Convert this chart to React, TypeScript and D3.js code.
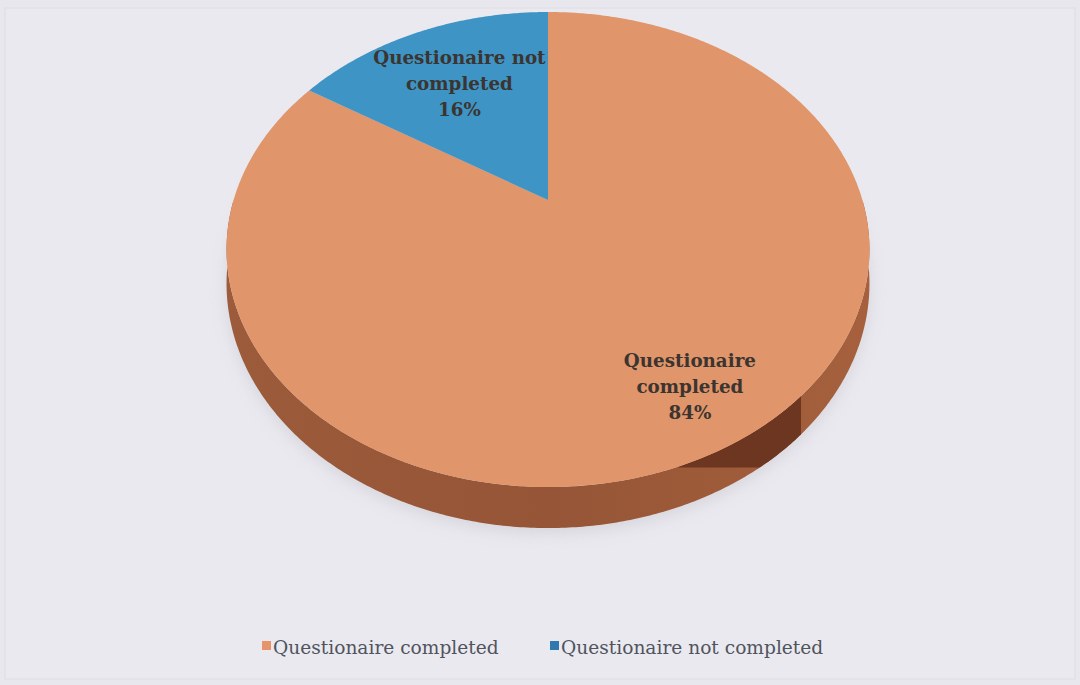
import React from "react";
import * as d3 from "d3";

const categories = ["Questionaire completed", "Questionaire not completed"];
const values = [84, 16];
const percentLabels = ["84%", "16%"];
const labelLines = [["Questionaire", "completed"], ["Questionaire not", "completed"]];

const topColors = ["#e0956a", "#3d94c5"];
const sideColors = ["#9a5939", "#2a6a90"];
const legendColors = ["#e8946a", "#2f79b0"];

const W = 1080;
const H = 685;
const CX = 548;
const CY = 200;
const A = 314.4;
const B = 227.2;
const K = 0.2084;
const DEPTH = 32.5;
const labelRadius = [0.8, 0.655];

function proj(t: number, r: number, dz = 0): [number, number] {
  const X = r * Math.sin(t);
  const Y = r * Math.cos(t);
  const s = 1 / (1 + K * Y);
  return [CX + A * X * s, CY - B * Y * s + dz * s];
}

function samples(a0: number, a1: number): number[] {
  const n = Math.max(2, Math.ceil(((a1 - a0) * 180) / Math.PI / 0.5));
  return d3.range(n + 1).map((i) => a0 + ((a1 - a0) * i) / n);
}

function poly(pts: [number, number][]): string {
  return "M" + pts.map((p) => p[0].toFixed(2) + "," + p[1].toFixed(2)).join("L") + "Z";
}

function sidePath(a0: number, a1: number): string {
  const ts = samples(a0, a1);
  const top = ts.map((t) => proj(t, 1, 0));
  const bot = ts.slice().reverse().map((t) => proj(t, 1, DEPTH));
  return poly([...top, ...bot]);
}

export default function App() {
  const pie = d3.pie<number>().sort(null).startAngle(0).endAngle(2 * Math.PI);
  const arcs = pie(values);

  const sides = arcs
    .map((d, i) => {
      const a0 = Math.max(d.startAngle, Math.PI / 2);
      const a1 = Math.min(d.endAngle, (3 * Math.PI) / 2);
      return a1 > a0 ? { i, path: sidePath(a0, a1) } : null;
    })
    .filter(Boolean) as { i: number; path: string }[];

  // darker shading facet on the front-right rim
  const shadeA0 = (137 * Math.PI) / 180;
  const shadeA1 = (160.5 * Math.PI) / 180;
  const shadePath = sidePath(shadeA0, shadeA1);
  const shadeClipY = proj(shadeA1, 1, 0)[1] + 1;

  const shadowPath = poly(samples(0, 2 * Math.PI).map((t) => proj(t, 1, DEPTH + 4)));

  const tops = arcs.map((d) => {
    const pts = samples(d.startAngle, d.endAngle).map((t) => proj(t, 1, 0));
    return poly([[CX, CY], ...pts]);
  });

  const labels = arcs.map((d, i) => {
    const mid = (d.startAngle + d.endAngle) / 2;
    const [x, y] = proj(mid, labelRadius[i], 0);
    return { x, y, lines: [...labelLines[i], percentLabels[i]] };
  });

  const legendX = [262, 550];
  const legendY = 647;

  return (
    <svg
      width={W}
      height={H}
      style={{ position: "absolute", left: 0, top: 0 }}
      xmlns="http://www.w3.org/2000/svg"
    >
      <defs>
        <filter id="blur" x="-20%" y="-20%" width="140%" height="140%">
          <feGaussianBlur stdDeviation="8" />
        </filter>
        <linearGradient id="sideGrad" x1="0" x2="1" y1="0" y2="0">
          <stop offset="0" stopColor="#9c5b3b" />
          <stop offset="0.5" stopColor="#955536" />
          <stop offset="1" stopColor="#a6603d" />
        </linearGradient>
        <clipPath id="shadeClip">
          <rect x={0} y={0} width={W} height={shadeClipY} />
        </clipPath>
      </defs>
      <rect x={0} y={0} width={W} height={H} fill="#e8e7ed" />
      <rect x={5} y={8} width={W - 10} height={H - 14} fill="#eae9ef" stroke="#dedde3" strokeWidth={1} />
      <path d={shadowPath} fill="#c9c7cf" opacity={0.6} filter="url(#blur)" />
      {sides.map((s) => (
        <path key={"side" + s.i} d={s.path} fill={s.i === 0 ? "url(#sideGrad)" : sideColors[s.i]} />
      ))}
      <path d={shadePath} fill="#6d3620" clipPath="url(#shadeClip)" />
      {tops.map((p, i) => (
        <path key={"top" + i} d={p} fill={topColors[i]} />
      ))}
      {labels.map((l, i) => (
        <text
          key={"lab" + i}
          x={l.x}
          y={l.y}
          textAnchor="middle"
          fontFamily="'DejaVu Serif', serif"
          fontWeight="bold"
          fontSize={18.3}
          fill="#3b3430"
        >
          {l.lines.map((ln, j) => (
            <tspan key={j} x={l.x} y={l.y + (j - 1) * 26 + 6}>
              {ln}
            </tspan>
          ))}
        </text>
      ))}
      {categories.map((c, i) => (
        <g key={"leg" + i}>
          <rect x={legendX[i]} y={legendY - 6} width={9} height={9} fill={legendColors[i]} />
          <text
            x={legendX[i] + 11}
            y={legendY + 7}
            fontFamily="'DejaVu Serif', serif"
            fontSize={18.6}
            fill="#50545e"
          >
            {c}
          </text>
        </g>
      ))}
    </svg>
  );
}
